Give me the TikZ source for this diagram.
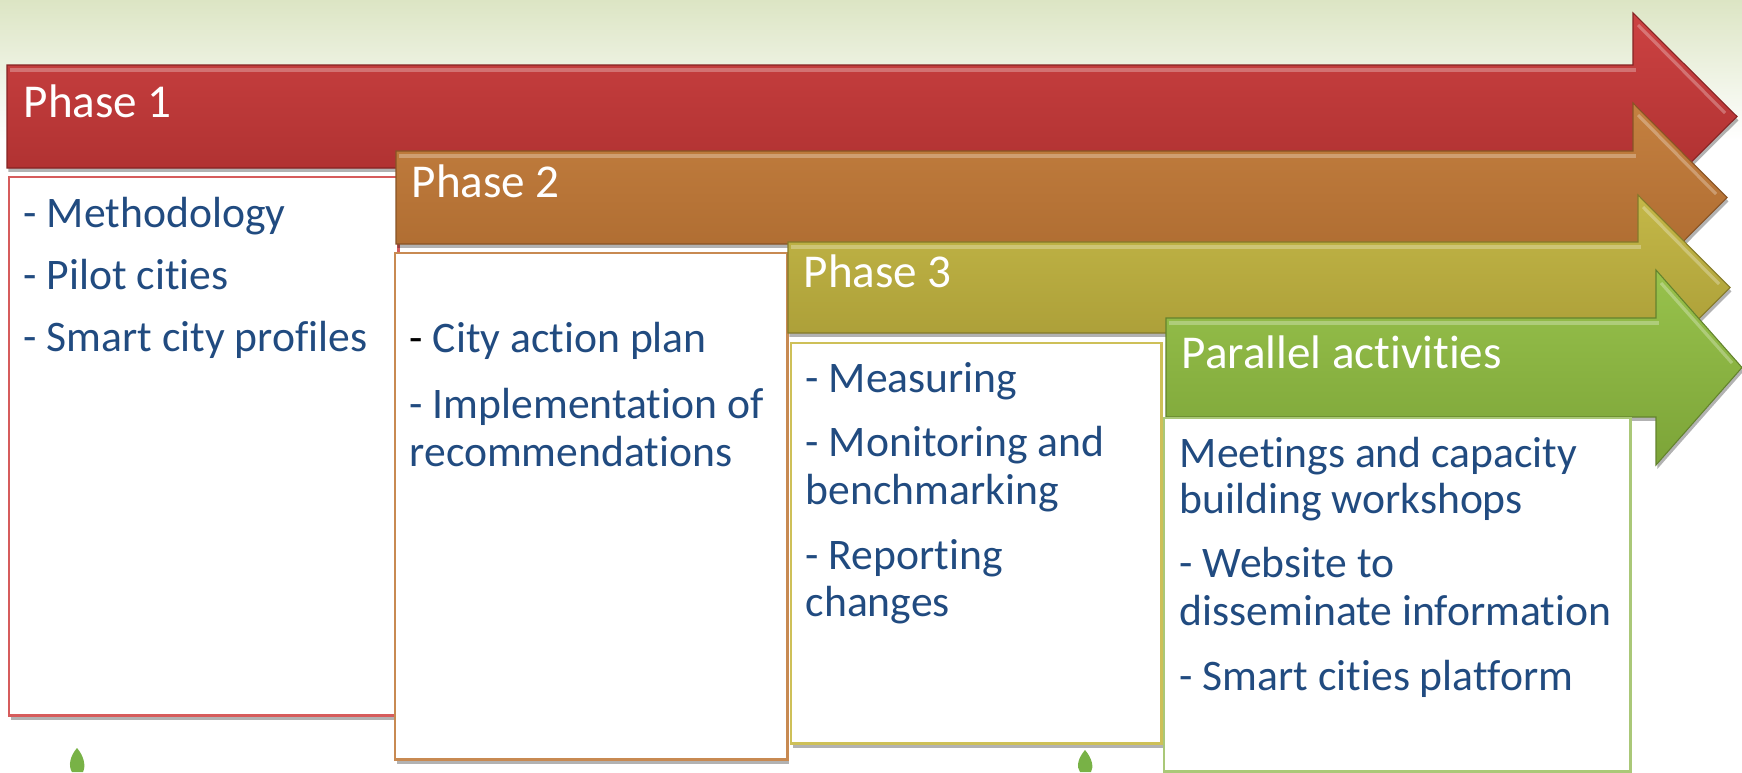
\documentclass[tikz,border=0pt]{standalone}
\usepackage{fontspec}
\setmainfont{Carlito}[Ligatures={NoCommon,NoRare,NoContextual},Contextuals=NoAlternate]
\usetikzlibrary{shadows}
\definecolor{txt}{RGB}{33,75,128}
\definecolor{bgtop}{RGB}{220,229,196}
\definecolor{redA}{RGB}{204,66,66}
\definecolor{redB}{RGB}{168,45,45}
\definecolor{oraA}{RGB}{196,128,64}
\definecolor{oraB}{RGB}{170,104,46}
\definecolor{oliA}{RGB}{196,184,72}
\definecolor{oliB}{RGB}{165,152,52}
\definecolor{grnA}{RGB}{152,194,76}
\definecolor{grnB}{RGB}{124,164,56}
\definecolor{redL}{RGB}{214,92,92}
\definecolor{oraL}{RGB}{200,138,82}
\definecolor{oliL}{RGB}{206,192,88}
\definecolor{grnL}{RGB}{170,200,120}
\definecolor{leaf}{RGB}{120,178,70}
\tikzset{
  arrowshape/.style 2 args={top color=#1, bottom color=#2, draw=#2!80!black, line width=0.3pt,
    drop shadow={shadow xshift=0.4pt, shadow yshift=-1.1pt, opacity=0.3, fill=black}},
  hilite/.style={draw=white, opacity=0.28, line width=0.9pt},
  phasebox/.style={draw=#1, line width=0.75pt, fill=white, inner sep=0pt, outer sep=0pt,
    anchor=north west, drop shadow={shadow xshift=0.5pt, shadow yshift=-1.3pt, opacity=0.3, fill=black}},
  headtext/.style={font=\fontsize{13.4}{16}\selectfont, text=white, anchor=base west, inner sep=0pt},
  bodytext/.style={font=\fontsize{12.4}{15}\selectfont, text=txt, anchor=base west, inner sep=0pt}
}
\begin{document}
\begin{tikzpicture}[x=0.01cm, y=-0.01cm]
\useasboundingbox (0,0) rectangle (1742,772);
\fill[white] (0,0) rectangle (1742,772);
\shade[top color=bgtop, bottom color=white] (0,0) rectangle (1742,140);

% Phase 1
\shade[arrowshape={redA}{redB}] (7,65) -- (1633,65) -- (1633,13) -- (1737,116.5) -- (1633,220) -- (1633,168) -- (7,168) -- cycle;
\draw[hilite] (10,70) -- (1636,70);
\draw[hilite] (1638,25) -- (1725,113);
\node[headtext] (h1) at (23,117) {Phase 1};
\node[phasebox=redL, minimum width=3.89cm, minimum height=5.38cm] (b1) at (9,177) {};
\node[bodytext] (t11) at (23,227) {- Methodology};
\node[bodytext] (t12) at (23,289) {- Pilot cities};
\node[bodytext] (t13) at (23,351) {- Smart city profiles};

% Phase 2
\shade[arrowshape={oraA}{oraB}] (396,151) -- (1633,151) -- (1633,103) -- (1727,197.5) -- (1633,292) -- (1633,244) -- (396,244) -- cycle;
\draw[hilite] (399,156) -- (1636,156);
\draw[hilite] (1638,115) -- (1716,194);
\node[headtext] (h2) at (411,197) {Phase 2};
\node[phasebox=oraL, minimum width=3.92cm, minimum height=5.06cm] (b2) at (395,253) {};
\node[bodytext] (t21) at (409,352) {\textcolor{black}{-} City action plan};
\node[bodytext] (t22) at (409,418) {- Implementation of};
\node[bodytext] (t23) at (409,466) {recommendations};

% Phase 3
\shade[arrowshape={oliA}{oliB}] (788,242) -- (1638,242) -- (1638,195) -- (1730,287.5) -- (1638,380) -- (1638,333) -- (788,333) -- cycle;
\draw[hilite] (791,247) -- (1641,247);
\draw[hilite] (1643,207) -- (1719,284);
\node[headtext] (h3) at (803,287) {Phase 3};
\node[phasebox=oliL, minimum width=3.70cm, minimum height=4.00cm] (b3) at (791,343) {};
\node[bodytext] (t31) at (805,392) {- Measuring};
\node[bodytext] (t32) at (805,456) {- Monitoring and};
\node[bodytext] (t33) at (805,504) {benchmarking};
\node[bodytext] (t34) at (805,569) {- Reporting};
\node[bodytext] (t35) at (805,616) {changes};

% Parallel activities
\shade[arrowshape={grnA}{grnB}] (1166,318) -- (1656,318) -- (1656,270) -- (1742,367.5) -- (1656,465) -- (1656,417) -- (1166,417) -- cycle;
\draw[hilite] (1169,323) -- (1659,323);
\draw[hilite] (1661,283) -- (1732,363);
\node[headtext] (h4) at (1181,368) {Parallel activities};
\node[phasebox=grnL, minimum width=4.66cm, minimum height=3.53cm] (b4) at (1164,418) {};
\node[bodytext] (t41) at (1179,467) {Meetings and capacity};
\node[bodytext] (t42) at (1179,513) {building workshops};
\node[bodytext] (t43) at (1179,577) {- Website to};
\node[bodytext] (t44) at (1179,625) {disseminate information};
\node[bodytext] (t45) at (1179,690) {- Smart cities platform};

% small leaf icons
\fill[leaf] (77,748) .. controls (70,756) and (68,766) .. (72,772) -- (83,772) .. controls (86,766) and (84,756) .. (77,748);
\fill[leaf] (1085,750) .. controls (1078,758) and (1076,767) .. (1080,772) -- (1091,772) .. controls (1094,767) and (1092,758) .. (1085,750);
\end{tikzpicture}
\end{document}
